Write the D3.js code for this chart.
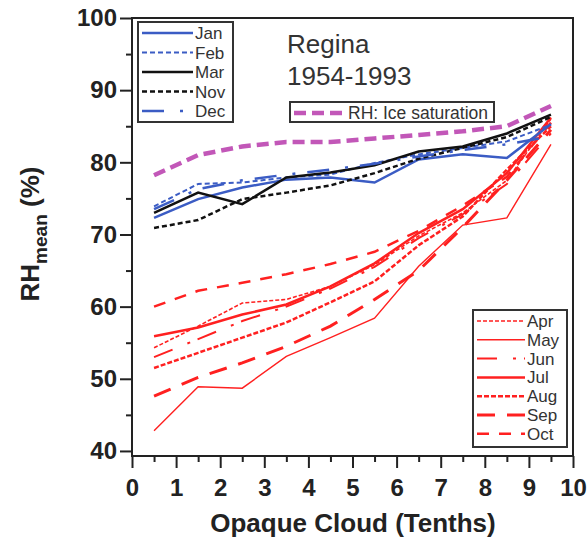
<!DOCTYPE html>
<html>
<head>
<meta charset="utf-8">
<script src="https://cdn.jsdelivr.net/npm/d3@7"></script>
<style>
  body { margin: 0; background: #fff; }
  text { font-family: "Liberation Sans", Arial, sans-serif; }
</style>
</head>
<body>
<script>
// cloud classes (tenths) and monthly RH means
var cloud = [0.5, 1.5, 2.5, 3.5, 4.5, 5.5, 6.5, 7.5, 8.5, 9.5]

var jan = [72.3, 74.9, 76.5, 77.6, 77.9, 77.2, 80.4, 81.1, 80.6, 85.3]
var feb = [73.9, 77.0, 77.2, 77.9, 78.3, 79.9, 81.1, 82.0, 82.9, 85.2]
var mar = [73.0, 75.8, 74.2, 77.9, 78.6, 79.6, 81.5, 82.2, 84.0, 86.6]
var nov = [70.9, 72.0, 74.9, 75.8, 76.8, 78.5, 80.5, 82.0, 83.5, 86.3]
var dec = [73.5, 76.3, 77.5, 78.3, 79.0, 79.8, 80.8, 81.7, 82.5, 83.6]

var apr = [54.3, 57.3, 60.5, 61.0, 62.8, 65.8, 69.8, 73.0, 77.5, 86.0]
var may = [42.8, 48.9, 48.7, 53.1, 55.7, 58.4, 65.6, 71.3, 72.3, 82.5]
var jun = [53.0, 55.5, 58.0, 60.0, 62.5, 65.5, 69.5, 72.8, 77.0, 84.0]
var jul = [55.9, 57.1, 58.9, 60.3, 62.8, 66.0, 70.2, 73.5, 78.5, 86.2]
var aug = [51.5, 53.6, 55.7, 57.8, 60.6, 63.5, 68.5, 72.5, 79.0, 85.0]
var sep = [47.6, 50.2, 52.2, 54.5, 57.3, 61.0, 65.0, 71.0, 77.5, 84.5]
var oct = [60.0, 62.2, 63.3, 64.5, 65.9, 67.6, 70.5, 74.0, 78.0, 85.5]

var iceSat = [78.2, 81.0, 82.2, 82.8, 82.8, 83.3, 83.8, 84.3, 85.0, 87.8]

var xTicks = [0, 1, 2, 3, 4, 5, 6, 7, 8, 9, 10]
var yTicks = [40, 50, 60, 70, 80, 90, 100]

var blue = "#3b5cc4", red = "#ff2020", black = "#111", magenta = "#c257b8"

// styles per series
var winter = [
  {name: "Jan", values: jan, color: blue, width: 2.5, dash: null},
  {name: "Feb", values: feb, color: blue, width: 2, dash: "5,3"},
  {name: "Mar", values: mar, color: black, width: 2.5, dash: null},
  {name: "Nov", values: nov, color: black, width: 2.5, dash: "5,3"},
  {name: "Dec", values: dec, color: blue, width: 2.5, dash: "22,16,3,12"}
]
var summer = [
  {name: "Apr", values: apr, color: red, width: 1.6, dash: "4,2"},
  {name: "May", values: may, color: red, width: 1.4, dash: null},
  {name: "Jun", values: jun, color: red, width: 2, dash: "20,16,3,8"},
  {name: "Jul", values: jul, color: red, width: 2.5, dash: null},
  {name: "Aug", values: aug, color: red, width: 2.5, dash: "5,2"},
  {name: "Sep", values: sep, color: red, width: 3, dash: "18,12"},
  {name: "Oct", values: oct, color: red, width: 2.5, dash: "12,10"}
]
var ice = {name: "RH: Ice saturation", values: iceSat, color: magenta, width: 4.5, dash: "12,6"}

var w = 587, h = 544
var pl = 132, pr = 573, pt = 18, pb = 456

var svg = d3.select("body").append("svg")
    .attr("width", w)
    .attr("height", h)

var x = d3.scaleLinear().domain([0, 10]).range([pl, pr])
var y = d3.scaleLinear().domain([39.3, 100]).range([pb, pt])

var line = d3.line()
    .x(function(d, i) { return x(cloud[i]) })
    .y(function(d) { return y(d) })

// lines
var all = summer.concat(winter).concat([ice])
svg.selectAll(".series")
    .data(all)
    .enter().append("path")
    .attr("class", "series")
    .attr("d", function(d) { return line(d.values) })
    .attr("fill", "none")
    .attr("stroke", function(d) { return d.color })
    .attr("stroke-width", function(d) { return d.width })
    .attr("stroke-dasharray", function(d) { return d.dash })

// frame
svg.append("rect")
    .attr("x", pl).attr("y", pt)
    .attr("width", pr - pl).attr("height", pb - pt)
    .attr("fill", "none").attr("stroke", "#222").attr("stroke-width", 2)

// axes
svg.append("g")
    .attr("transform", "translate(" + pl + ",0)")
    .call(d3.axisLeft(y).tickValues(yTicks).tickSize(12).tickPadding(3))
svg.append("g")
    .attr("transform", "translate(" + pl + ",0)")
    .call(d3.axisLeft(y).tickValues([45, 55, 65, 75, 85, 95]).tickSize(6).tickFormat(""))
svg.append("g")
    .attr("transform", "translate(0," + pb + ")")
    .call(d3.axisBottom(x).tickValues(xTicks).tickSize(12).tickPadding(11))
svg.append("g")
    .attr("transform", "translate(0," + pb + ")")
    .call(d3.axisBottom(x).tickValues(cloud).tickSize(6).tickFormat(""))

svg.selectAll(".domain").remove()
svg.selectAll(".tick line").attr("stroke", "#222").attr("stroke-width", 2)
svg.selectAll(".tick text")
    .attr("fill", "#222")
    .style("font-size", "24px")
    .style("font-weight", "bold")
    .style("font-family", "Liberation Sans, Arial, sans-serif")

// axis titles
svg.append("text")
    .attr("x", 353).attr("y", 532)
    .attr("text-anchor", "middle")
    .style("font-size", "26px").style("font-weight", "bold").attr("fill", "#222")
    .text("Opaque Cloud (Tenths)")

var yt = svg.append("text")
    .attr("transform", "translate(39,234) rotate(-90)")
    .attr("text-anchor", "middle")
    .style("font-size", "26px").style("font-weight", "bold").attr("fill", "#222")
yt.append("tspan").text("RH")
yt.append("tspan").attr("dy", 8).style("font-size", "19px").text("mean")
yt.append("tspan").attr("dy", -8).text(" (%)")

// title
svg.append("text").attr("x", 287).attr("y", 53)
    .style("font-size", "26px").attr("fill", "#333").text("Regina")
svg.append("text").attr("x", 287).attr("y", 85)
    .style("font-size", "26px").attr("fill", "#333").text("1954-1993")

function drawLegend(items, bx, by, bw, bh, step, sampleW, fs){
  var g = svg.append("g")
  g.append("rect")
    .attr("x", bx).attr("y", by).attr("width", bw).attr("height", bh)
    .attr("fill", "#fff").attr("stroke", "#333").attr("stroke-width", 2)
  items.forEach(function(d, i){
    var ly = by + 11 + i * step
    g.append("line")
      .attr("x1", bx + 4).attr("x2", bx + 4 + sampleW)
      .attr("y1", ly).attr("y2", ly)
      .attr("stroke", d.color).attr("stroke-width", d.width)
      .attr("stroke-dasharray", d.dash)
    g.append("text")
      .attr("x", bx + 6 + sampleW).attr("y", ly + 6)
      .style("font-size", fs + "px").attr("fill", "#333")
      .text(d.name)
  })
}

drawLegend(winter, 138, 22, 95, 100, 19.5, 51, 17)
drawLegend(summer, 473, 310, 94, 137, 18.8, 48, 17)
drawLegend([ice], 290, 102, 204, 20, 0, 52, 17.5)
</script>
</body>
</html>
